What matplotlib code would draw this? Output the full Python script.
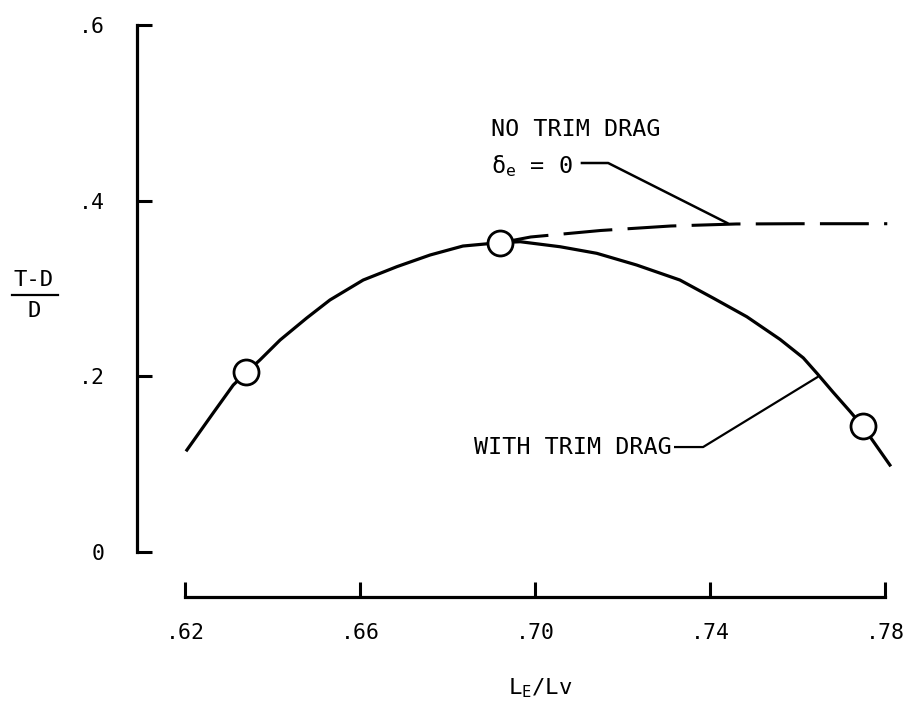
import matplotlib
import matplotlib.pyplot as plt
from matplotlib.lines import Line2D

matplotlib.use('Agg')

plt.rcParams['font.family'] = ['DejaVu Sans Mono']
plt.rcParams['mathtext.fontset'] = 'custom'
plt.rcParams['mathtext.rm'] = 'DejaVu Sans Mono'

# with trim drag (solid curve)
trim_x = [0.6204, 0.6264, 0.6310, 0.6341, 0.6371, 0.6417, 0.6478, 0.6531,
          0.6607, 0.6684, 0.6760, 0.6835, 0.6918, 0.6966, 0.7057, 0.7141,
          0.7232, 0.7331, 0.7408, 0.7484, 0.7560, 0.7613, 0.7645, 0.7681,
          0.7720, 0.7750, 0.7811]
trim_y = [0.1161, 0.1582, 0.1901, 0.2049, 0.2186, 0.2413, 0.2664, 0.2869,
          0.3096, 0.3248, 0.3381, 0.3483, 0.3521, 0.3532, 0.3475, 0.3400,
          0.3267, 0.3096, 0.2888, 0.2678, 0.2420, 0.2210, 0.2030, 0.1820,
          0.1600, 0.1423, 0.0990]

# no trim drag, delta_e = 0 (dashed curve)
notrim_x = [0.692, 0.699, 0.715, 0.731, 0.746, 0.760, 0.7805]
notrim_y = [0.352, 0.3586, 0.366, 0.3711, 0.3734, 0.3737, 0.3737]

# test points
pts_x = [0.634, 0.692, 0.775]
pts_y = [0.205, 0.352, 0.143]

x_ticks = [0.62, 0.66, 0.70, 0.74, 0.78]
x_tick_labels = ['.62', '.66', '.70', '.74', '.78']
y_ticks = [0.0, 0.2, 0.4, 0.6]
y_tick_labels = ['0', '.2', '.4', '.6']

fig = plt.figure(figsize=(9.08, 7.12), dpi=100)
ax = fig.add_axes([0.1509, 0.1615, 0.8335, 0.8097])
ax.set_xlim(0.609, 0.782)
ax.set_ylim(-0.0512, 0.605)

ax.plot(trim_x, trim_y, color='black', lw=2.3, solid_joinstyle='round',
        zorder=2)
ax.plot(notrim_x, notrim_y, color='black', lw=2.2, dashes=(16, 5), zorder=2)
ax.plot(pts_x, pts_y, 'o', ms=18, mfc='white', mec='black', mew=2.0,
        clip_on=False, zorder=3)

# leader lines
ax.plot([0.7107, 0.7167, 0.7439], [0.4428, 0.4428, 0.3745],
        color='black', lw=1.8, clip_on=False)
ax.plot([0.7320, 0.7384, 0.7645], [0.1195, 0.1195, 0.1990],
        color='black', lw=1.6, clip_on=False)

ax.text(0.6900, 0.4804, 'NO TRIM DRAG', fontsize=16.8, ha='left', va='center')
ax.text(0.6900, 0.4314, r'δ$_{\mathrm{e}}$ = 0', fontsize=16.8,
        ha='left', va='baseline')
ax.text(0.6860, 0.1195, 'WITH TRIM DRAG', fontsize=16.8, ha='left',
        va='center')

# detached spines
for side in ['top', 'right']:
    ax.spines[side].set_visible(False)
ax.spines['left'].set_bounds(0.0, 0.6)
ax.spines['bottom'].set_bounds(0.62, 0.78)
for side in ['left', 'bottom']:
    ax.spines[side].set_linewidth(2.3)

ax.set_xticks(x_ticks)
ax.set_xticklabels(x_tick_labels)
ax.set_yticks(y_ticks)
ax.set_yticklabels(y_tick_labels)
ax.tick_params(axis='both', direction='in', length=11, width=2.2,
               labelsize=15.5)
ax.tick_params(axis='x', pad=19)
ax.tick_params(axis='y', pad=23)

# axis titles
fig.text(0.5947, 0.0337, r'L$_{\mathrm{E}}$/Lv', fontsize=16,
         ha='center', va='center')
fig.text(0.0374, 0.6067, 'T-D', fontsize=16, ha='center', va='center')
fig.add_artist(Line2D([0.0132, 0.0639], [0.5857, 0.5857],
                      transform=fig.transFigure, color='black', lw=1.6))
fig.text(0.0374, 0.5632, 'D', fontsize=16, ha='center', va='center')

fig.savefig('out.png', dpi=100)
